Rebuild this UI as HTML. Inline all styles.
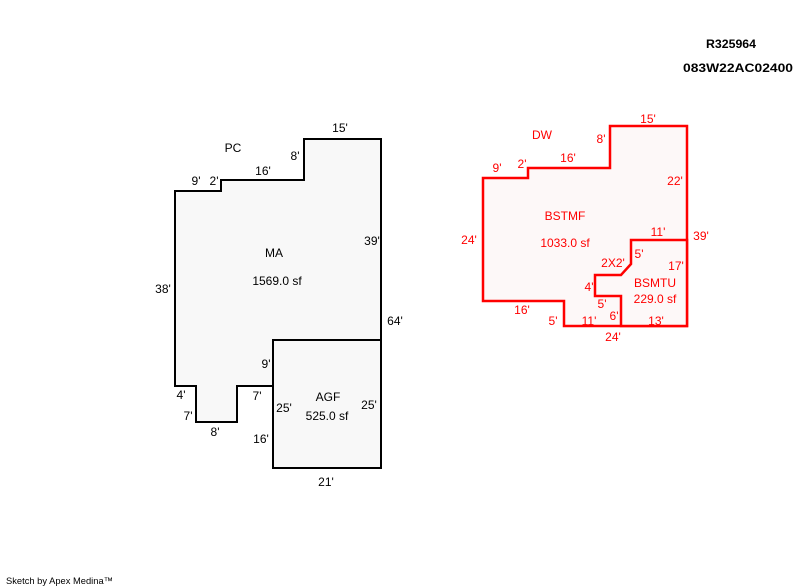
<!DOCTYPE html>
<html><head><meta charset="utf-8"><style>
html,body{margin:0;padding:0;background:#fff;}
svg{display:block;}
text{font-family:"Liberation Sans",Arial,sans-serif;font-size:12px;}
.k{fill:#000;}
.r{fill:#f00;}
</style></head><body>
<svg width="800" height="587" viewBox="0 0 800 587" xmlns="http://www.w3.org/2000/svg">
<rect width="800" height="587" fill="#fff"/>
<!-- Left: MA -->
<path d="M175,191 L221,191 L221,180 L304,180 L304,139 L381,139 L381,340 L273,340 L273,386 L237,386 L237,422 L196,422 L196,386 L175,386 Z" fill="#f8f8f8" stroke="#000" stroke-width="2"/>
<rect x="273" y="340" width="108" height="128" fill="#f8f8f8" stroke="#000" stroke-width="2"/>
<!-- Right: BSTMF -->
<path d="M483,178 L528,178 L528,168 L610,168 L610,126 L687,126 L687,326 L564,326 L564,301 L483,301 Z" fill="#fdf8f8" stroke="#f00" stroke-width="2.5"/>
<path d="M631,240 L687,240 L687,326 L621,326 L621,296 L595,296 L595,275 L621,275 L631,264 Z" fill="#fdf8f8" stroke="#f00" stroke-width="2.5"/>

<g class="k" text-anchor="middle">
<text x="340" y="132">15'</text>
<text x="233" y="152">PC</text>
<text x="295" y="160">8'</text>
<text x="263" y="175">16'</text>
<text x="196" y="185">9'</text>
<text x="214" y="185">2'</text>
<text x="372" y="245">39'</text>
<text x="274" y="257">MA</text>
<text x="277" y="285">1569.0 sf</text>
<text x="163" y="293">38'</text>
<text x="395" y="325">64'</text>
<text x="266" y="368">9'</text>
<text x="181" y="399">4'</text>
<text x="257" y="400">7'</text>
<text x="328" y="401">AGF</text>
<text x="284" y="412">25'</text>
<text x="369" y="409">25'</text>
<text x="327" y="420">525.0 sf</text>
<text x="188" y="420">7'</text>
<text x="215" y="436">8'</text>
<text x="261" y="443">16'</text>
<text x="326" y="486">21'</text>
</g>

<g class="r" text-anchor="middle">
<text x="648" y="123">15'</text>
<text x="542" y="139">DW</text>
<text x="601" y="143">8'</text>
<text x="568" y="162">16'</text>
<text x="497" y="172">9'</text>
<text x="522" y="168">2'</text>
<text x="675" y="185">22'</text>
<text x="565" y="220">BSTMF</text>
<text x="658" y="236">11'</text>
<text x="701" y="240">39'</text>
<text x="469" y="244">24'</text>
<text x="565" y="247">1033.0 sf</text>
<text x="639" y="258">5'</text>
<text x="613" y="267">2X2'</text>
<text x="676" y="270">17'</text>
<text x="589" y="291">4'</text>
<text x="655" y="287">BSMTU</text>
<text x="655" y="303">229.0 sf</text>
<text x="602" y="308">5'</text>
<text x="522" y="314">16'</text>
<text x="614" y="320">6'</text>
<text x="553" y="325">5'</text>
<text x="589" y="325">11'</text>
<text x="656" y="325">13'</text>
<text x="613" y="341">24'</text>
</g>

<text x="706" y="48" class="k" style="font-size:12px;font-weight:bold" textLength="50" lengthAdjust="spacingAndGlyphs">R325964</text>
<text x="683" y="72" class="k" style="font-size:12px;font-weight:bold" textLength="110" lengthAdjust="spacingAndGlyphs">083W22AC02400</text>
<text x="6" y="584" class="k" style="font-size:9.5px" textLength="107" lengthAdjust="spacingAndGlyphs">Sketch by Apex Medina™</text>
</svg>
</body></html>
